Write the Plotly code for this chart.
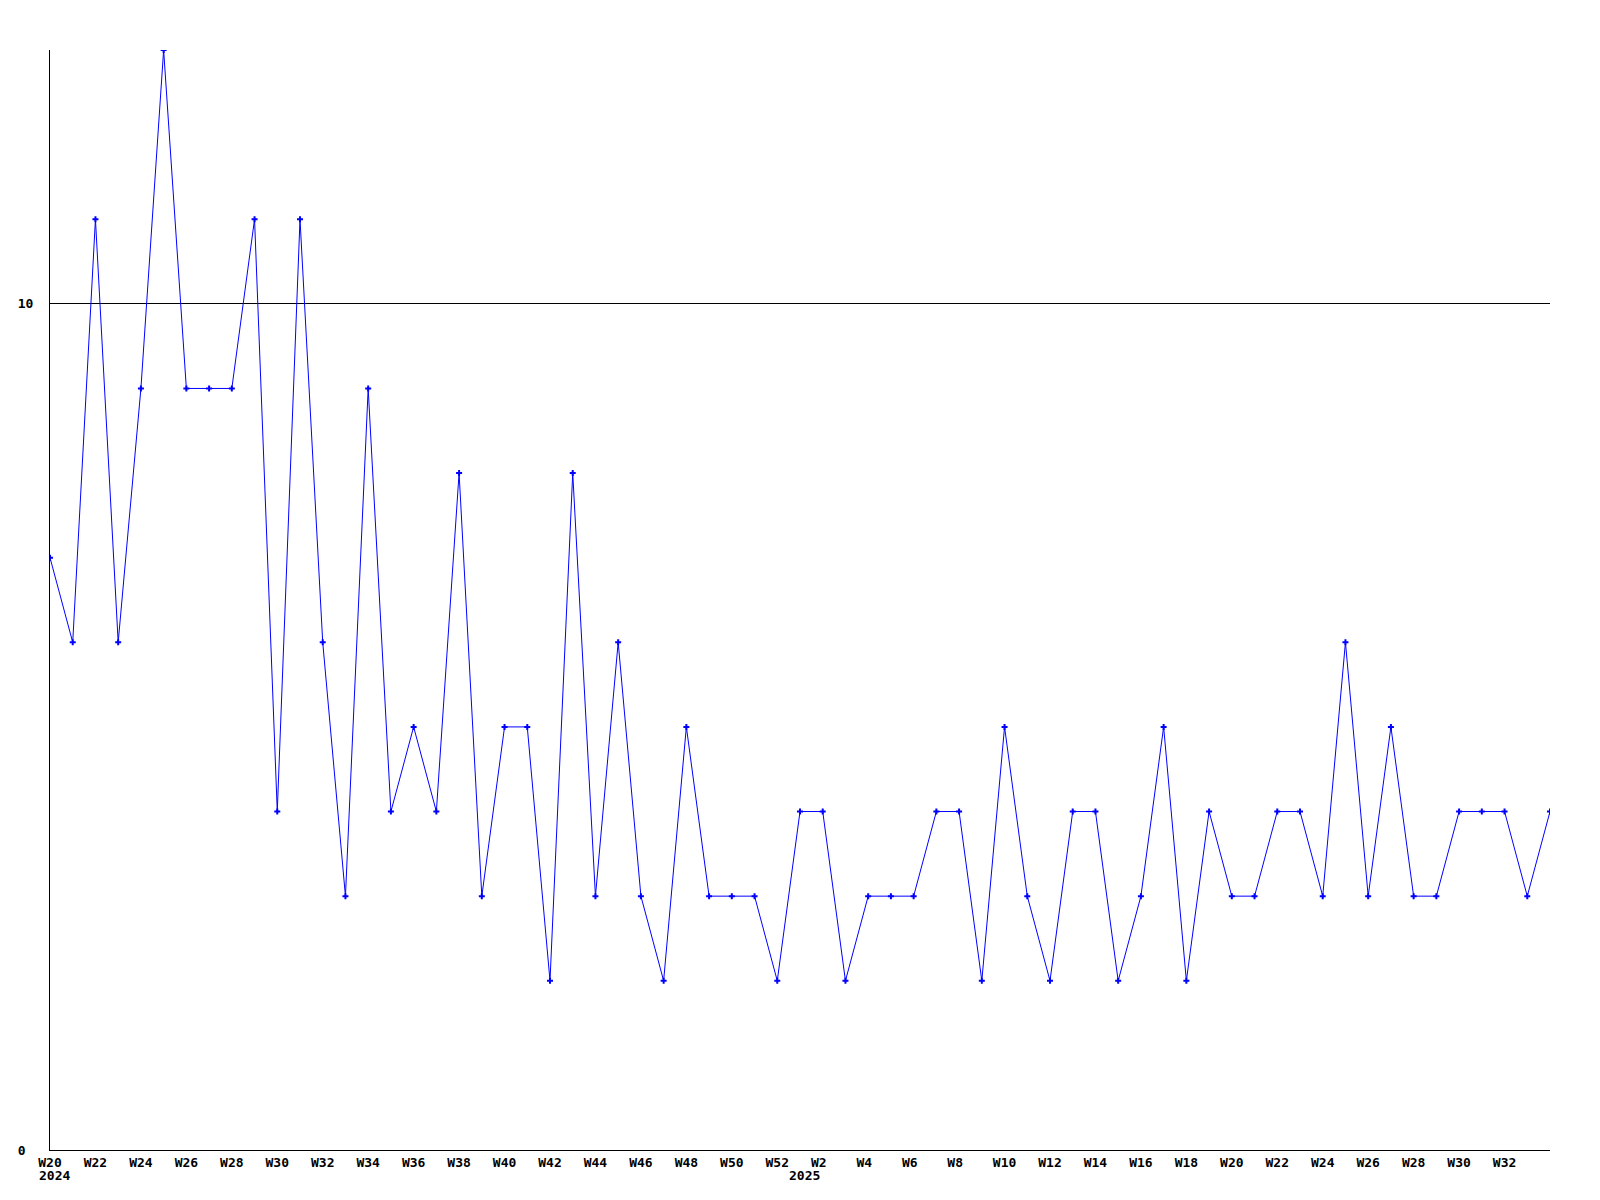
import plotly.graph_objects as go

weeks_2024 = [f"2024-W{w}" for w in range(20, 53)]
weeks_2025 = [f"2025-W{w}" for w in range(1, 35)]
categories = weeks_2024 + weeks_2025

values_2024 = [7, 6, 11, 6, 9, 13, 9, 9, 9, 11, 4, 11, 6, 3, 9, 4, 5, 4, 8, 3,
               5, 5, 2, 8, 3, 6, 3, 2, 5, 3, 3, 3, 2]
values_2025 = [4, 4, 2, 3, 3, 3, 4, 4, 2, 5, 3, 2, 4, 4, 2, 3, 5, 2, 4, 3,
               3, 4, 4, 3, 6, 3, 5, 3, 3, 4, 4, 4, 3, 4]
values = values_2024 + values_2025

tick_weeks = ([f"2024-W{w}" for w in range(20, 53, 2)] +
              [f"2025-W{w}" for w in range(2, 33, 2)])
tick_labels = [c.split("-")[1] for c in tick_weeks]
year_labels = [("2024-W20", "2024"), ("2025-W1", "2025")]
y_ticks = [0, 10]

FONT = "DejaVu Sans Mono"
FSIZE = 13

# pad two-character labels so they sit like three-character ones
tick_text = [t if len(t) >= 3 else t + "\u00a0" for t in tick_labels]
# y labels are left-aligned in the reference: pad to equal width
y_width = max(len(str(v)) for v in y_ticks)
y_text = [str(v) + "\u00a0" * (y_width - len(str(v))) for v in y_ticks]

fig = go.Figure()
fig.add_trace(go.Scatter(
    x=categories, y=values, mode="lines+markers",
    line=dict(color="#0000ff", width=1),
    marker=dict(symbol="cross", size=5, color="#0000ff", line=dict(width=0)),
    hoverinfo="x+y",
))

for cat, yr in year_labels:
    fig.add_annotation(
        x=cat, y=0, xref="x", yref="paper", text=yr, showarrow=False,
        xanchor="left", yanchor="middle", xshift=-13, yshift=-25,
        font=dict(family=FONT, size=FSIZE, color="black", weight="bold"),
    )

# page body has an 8px default margin, so offset the plot area by that
fig.update_layout(
    width=1600, height=1200,
    margin=dict(l=42, r=58, t=42, b=58, autoexpand=False),
    paper_bgcolor="white", plot_bgcolor="white",
    showlegend=False,
    xaxis=dict(
        type="category", categoryorder="array", categoryarray=categories,
        range=[0, len(categories) - 1], automargin=False,
        tickmode="array", tickvals=tick_weeks, ticktext=tick_text,
        showgrid=False, zeroline=False, showline=True, linecolor="black",
        linewidth=1, ticks="",
        tickfont=dict(family=FONT, size=FSIZE, color="black", weight="bold"),
    ),
    yaxis=dict(
        range=[0, 13], tickmode="array", tickvals=y_ticks, ticktext=y_text,
        automargin=False,
        showgrid=True, gridcolor="black", gridwidth=1, zeroline=False,
        showline=True, linecolor="black", linewidth=1, ticks="",
        ticklabelstandoff=13,
        tickfont=dict(family=FONT, size=FSIZE, color="black", weight="bold"),
    ),
)

fig.write_html("out.html")
